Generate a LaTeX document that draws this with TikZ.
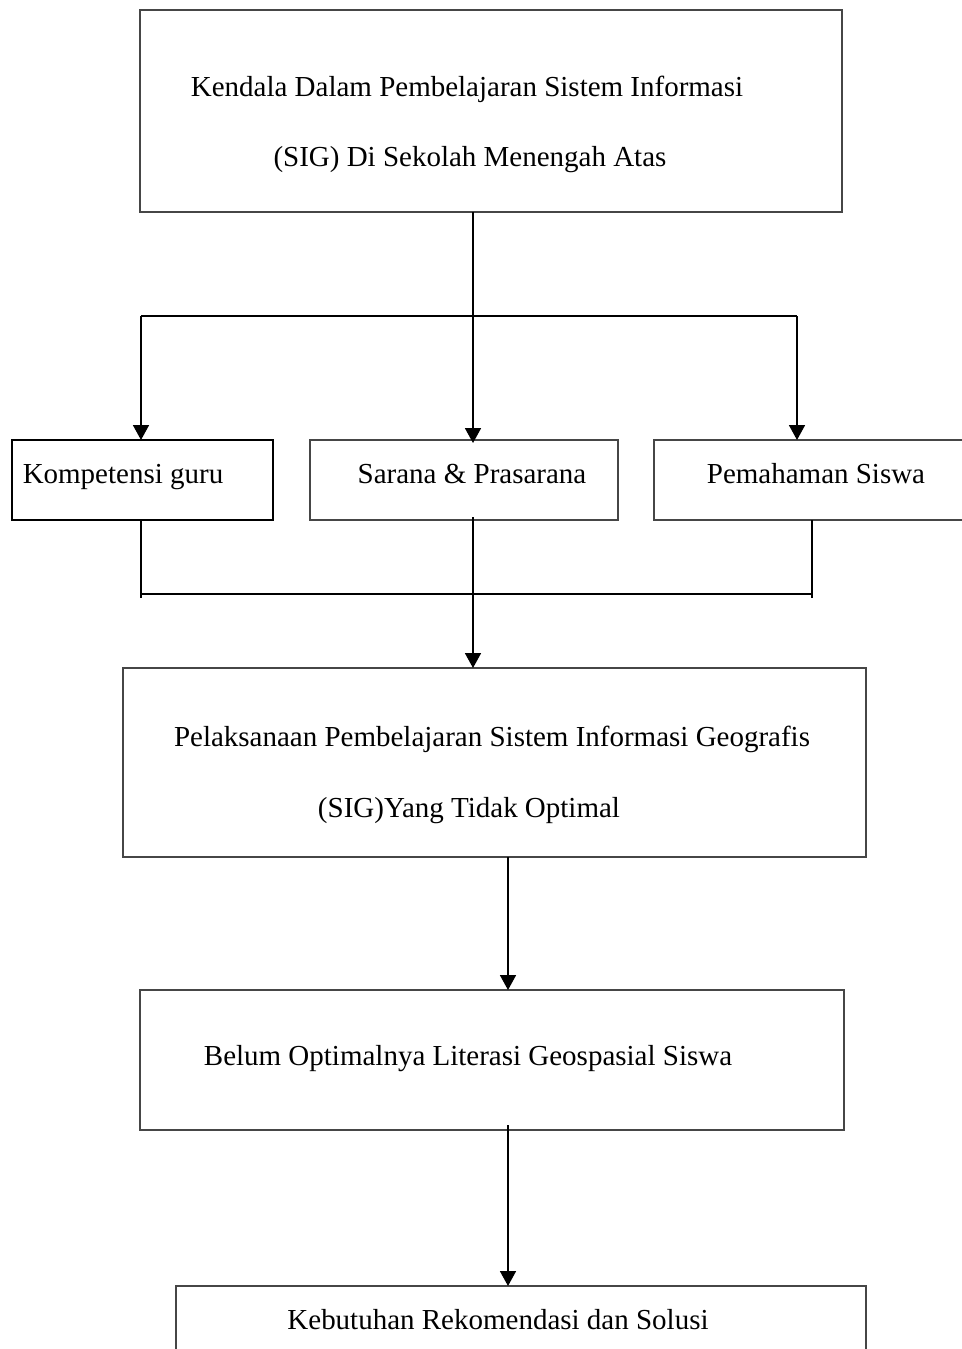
\documentclass[tikz,border=0pt]{standalone}
\usepackage{fontspec}
\setmainfont{Liberation Serif}
\usepackage{tikz}
\usetikzlibrary{arrows.meta}
\newlength{\unitpx}
\setlength{\unitpx}{0.02cm}
\definecolor{boxlinecolor}{RGB}{70,70,70}
\definecolor{flowlinecolor}{RGB}{0,0,0}
\tikzstyle{box} = [draw=boxlinecolor, line width=0.6pt, rectangle, anchor=north west, inner sep=0, outer sep=0]
\tikzstyle{boldbox} = [box, draw=black, line width=1.2pt]
\tikzstyle{caption} = [anchor=base, inner sep=0, font=\fontsize{16.5pt}{19pt}\selectfont]
\tikzstyle{flow} = [draw=flowlinecolor, line width=1pt]
\tikzstyle{flowarrow} = [flow, -{Triangle[length=3mm, width=3.2mm]}]

\begin{document}
\begin{tikzpicture}[
		x=\unitpx, y=-\unitpx
		]
		
		\useasboundingbox (0,0) rectangle (962,1349);
		\clip (0,0) rectangle (962,1349);
		
		% boxes
		\node[box, minimum width=702\unitpx, minimum height=202\unitpx] (kendala) at (140,10) {};
		\node[boldbox, minimum width=261\unitpx, minimum height=80\unitpx] (guru) at (12,440) {};
		\node[box, minimum width=308\unitpx, minimum height=80\unitpx] (sarana) at (310,440) {};
		\node[box, minimum width=340\unitpx, minimum height=80\unitpx] (siswa) at (654,440) {};
		\node[box, minimum width=743\unitpx, minimum height=189\unitpx] (pelaksanaan) at (123,668) {};
		\node[box, minimum width=704\unitpx, minimum height=140\unitpx] (literasi) at (140,990) {};
		\node[box, minimum width=690\unitpx, minimum height=100\unitpx] (kebutuhan) at (176,1286) {};
		
		% texts
		\node[caption] (kendalaA) at (467,96) {Kendala Dalam Pembelajaran Sistem Informasi};
		\node[caption] (kendalaB) at (470,166) {(SIG) Di Sekolah Menengah Atas};
		\node[caption] (guruT) at (123,483) {Kompetensi guru};
		\node[caption] (saranaT) at (472,483) {Sarana \& Prasarana};
		\node[caption] (siswaT) at (816,483) {Pemahaman Siswa};
		\node[caption] (pelaksanaanA) at (492,746) {Pelaksanaan Pembelajaran Sistem Informasi Geografis};
		\node[caption] (pelaksanaanB) at (469,817) {(SIG)Yang Tidak Optimal};
		\node[caption] (literasiT) at (468,1065) {Belum Optimalnya Literasi Geospasial Siswa};
		\node[caption] (kebutuhanT) at (498,1329) {Kebutuhan Rekomendasi dan Solusi};
		
		% branching
		\coordinate (split) at (473,316);
		\coordinate (splitL) at (141,316);
		\coordinate (splitR) at (797,316);
		\coordinate (mergeL) at (141,594);
		\coordinate (mergeR) at (812,594);
		\coordinate (axis) at (508,900);
		
		\draw[flow] (kendala.south -| split) -- (split);
		\draw[flow] (splitL) -- (splitR);
		\draw[flowarrow] (splitL) -- (splitL |- guru.north);
		\draw[flowarrow] (split) -- ([yshift=-3\unitpx]split |- sarana.north);
		\draw[flowarrow] (splitR) -- (splitR |- siswa.north);
		
		\draw[flow] (guru.south -| mergeL) -- ([yshift=-4\unitpx]mergeL);
		\draw[flow] (siswa.south -| mergeR) -- ([yshift=-4\unitpx]mergeR);
		\draw[flow] (mergeL) -- (mergeR);
		\draw[flowarrow] ([yshift=3\unitpx]sarana.south -| split) -- (split |- pelaksanaan.north);
		
		\draw[flowarrow] (pelaksanaan.south -| axis) -- (axis |- literasi.north);
		\draw[flowarrow] ([yshift=5\unitpx]literasi.south -| axis) -- (axis |- kebutuhan.north);
		
	\end{tikzpicture}
\end{document}
